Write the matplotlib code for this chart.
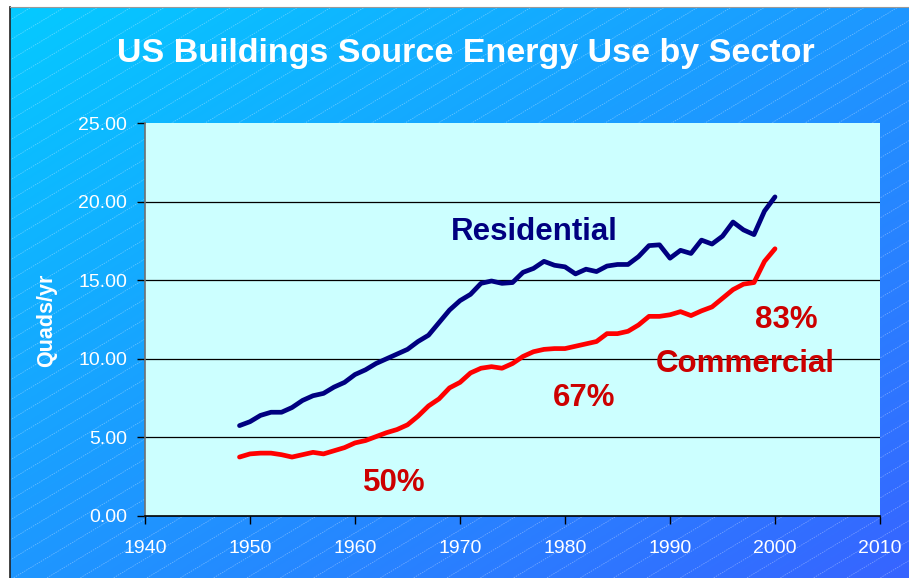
import numpy as np
import matplotlib
matplotlib.use("Agg")
import matplotlib.pyplot as plt
from matplotlib.patches import Rectangle
from matplotlib.ticker import FormatStrFormatter

plt.rcParams['font.family'] = ['Liberation Sans', 'DejaVu Sans']

years = list(range(1949, 2001))
residential = [5.75, 6.0, 6.4, 6.6, 6.6, 6.9, 7.35, 7.65, 7.8, 8.2,
               8.5, 9.0, 9.3, 9.7, 10.0, 10.3, 10.6, 11.1, 11.5, 12.3,
               13.1, 13.7, 14.1, 14.8, 14.95, 14.8, 14.85, 15.5, 15.75, 16.2,
               15.95, 15.85, 15.4, 15.7, 15.55, 15.9, 16.0, 16.0, 16.5, 17.2,
               17.25, 16.4, 16.9, 16.7, 17.55, 17.3, 17.8, 18.7, 18.2, 17.9,
               19.4, 20.3]
commercial = [3.75, 3.95, 4.0, 4.0, 3.9, 3.75, 3.9, 4.05, 3.95, 4.15,
              4.35, 4.65, 4.8, 5.05, 5.3, 5.5, 5.8, 6.35, 7.0, 7.45,
              8.15, 8.5, 9.1, 9.4, 9.5, 9.4, 9.7, 10.15, 10.45, 10.6,
              10.65, 10.65, 10.8, 10.95, 11.1, 11.6, 11.6, 11.75, 12.15, 12.7,
              12.7, 12.8, 13.0, 12.75, 13.05, 13.3, 13.85, 14.4, 14.75, 14.85,
              16.2, 17.0]
x_ticks = [1940, 1950, 1960, 1970, 1980, 1990, 2000, 2010]
y_ticks = [0, 5, 10, 15, 20, 25]

W, H = 909, 578
fig = plt.figure(figsize=(W / 100, H / 100), dpi=100)
fig.patch.set_facecolor('white')

# background panel with diagonal gradient and fine hatch
bg = fig.add_axes([0, 0, 1, 1])
bg.set_xlim(0, W)
bg.set_ylim(H, 0)
bg.axis('off')
x0, y0 = 10, 7
gx, gy = np.meshgrid(np.linspace(0, 1, 300), np.linspace(0, 1, 200))
t = (gx + gy) / 2
c1 = np.array([5, 202, 255]) / 255
c2 = np.array([55, 100, 255]) / 255
img = c1 + (c2 - c1) * t[..., None]
bg.imshow(img, extent=[x0, W, H, y0], aspect='auto', zorder=0)
clip = Rectangle((x0, y0), W - x0, H - y0, transform=bg.transData,
                 facecolor='none', edgecolor='none')
bg.add_patch(clip)
slope = 0.6
for c in np.arange(0, H + W * slope + 30, 20):
    xs = np.array([x0, W])
    ys = c - slope * (xs - x0)
    ln, = bg.plot(xs, ys, color='white', lw=0.5, alpha=0.4,
                  ls=(0, (2, 1.5)), zorder=1)
    ln.set_clip_path(clip)
bg.plot([x0, x0], [y0, H], color='#222222', lw=1.2, zorder=2)
bg.plot([x0, W], [y0, y0], color='#999999', lw=0.8, zorder=2)

ax = fig.add_axes([145 / W, 62 / H, 735 / W, 393 / H])
ax.set_facecolor('#CCFFFF')
ax.plot(years, residential, color='#000080', lw=3.4, solid_capstyle='round', zorder=3)
ax.plot(years, commercial, color='#FF0000', lw=3.4, solid_capstyle='round', zorder=3)

ax.set_xlim(1940, 2010)
ax.set_ylim(0, 25)
ax.set_xticks(x_ticks)
ax.set_yticks(y_ticks)
ax.yaxis.set_major_formatter(FormatStrFormatter('%.2f'))
for g in y_ticks[1:-1]:
    ax.axhline(g, color='black', lw=0.9, zorder=1)
for s in ['top', 'right']:
    ax.spines[s].set_visible(False)
ax.spines['left'].set_color('#707070')
ax.spines['left'].set_linewidth(1.2)
ax.spines['bottom'].set_color('black')
ax.spines['bottom'].set_linewidth(1.2)
ax.tick_params(axis='both', direction='out', length=6, width=1, colors='black',
               labelcolor='white', labelsize=14)
ax.tick_params(axis='y', pad=7)
ax.tick_params(axis='x', pad=11)

ax.text(1969.1, 17.56, 'Residential', color='#000080', fontsize=22.5,
        fontweight='bold', ha='left', va='baseline')
ax.text(1988.6, 9.18, 'Commercial', color='#CC0000', fontsize=22.5,
        fontweight='bold', ha='left', va='baseline')
ax.text(1998.1, 11.94, '83%', color='#CC0000', fontsize=22.5,
        fontweight='bold', ha='left', va='baseline')
ax.text(1978.85, 7.0, '67%', color='#CC0000', fontsize=22.5,
        fontweight='bold', ha='left', va='baseline')
ax.text(1960.75, 1.61, '50%', color='#CC0000', fontsize=22.5,
        fontweight='bold', ha='left', va='baseline')

fig.text(466 / W, 1 - 62.3 / H, 'US Buildings Source Energy Use by Sector',
         color='white', fontsize=24.5, fontweight='bold', ha='center', va='baseline')
fig.text(47 / W, 1 - 320 / H, 'Quads/yr', color='white', fontsize=15.5,
         fontweight='bold', rotation=90, ha='center', va='center')

fig.savefig('out.png', dpi=100)
